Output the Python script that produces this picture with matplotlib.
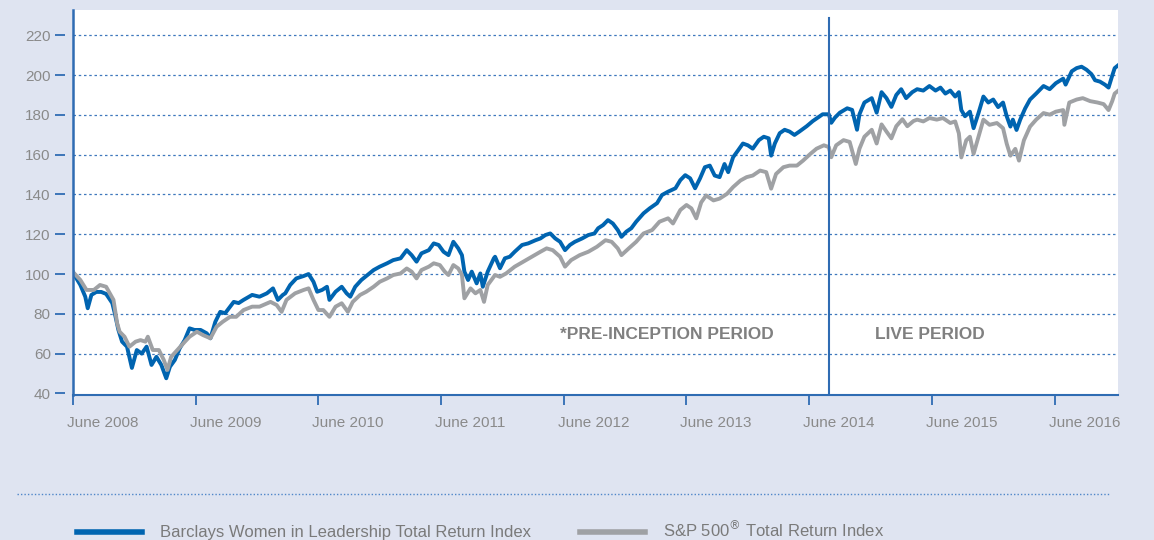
import matplotlib
matplotlib.use("Agg")
import matplotlib.pyplot as plt
from matplotlib.lines import Line2D
from matplotlib.transforms import ScaledTranslation

plt.rcParams['font.family'] = ['Liberation Sans', 'DejaVu Sans']

# Barclays Women in Leadership Total Return Index (decimal years, index level)
wil_t = [2008.45, 2008.47, 2008.51, 2008.55, 2008.57, 2008.60, 2008.64, 2008.68, 2008.72, 2008.77,
         2008.79, 2008.82, 2008.85, 2008.89, 2008.93, 2008.97, 2009.01, 2009.05, 2009.09, 2009.13,
         2009.17, 2009.21, 2009.24, 2009.28, 2009.32, 2009.36, 2009.40, 2009.44, 2009.49, 2009.54,
         2009.57, 2009.61, 2009.65, 2009.69, 2009.76, 2009.80, 2009.84, 2009.91, 2009.97, 2010.03,
         2010.08, 2010.12, 2010.16, 2010.18, 2010.22, 2010.27, 2010.33, 2010.37, 2010.41, 2010.44,
         2010.48, 2010.52, 2010.54, 2010.59, 2010.64, 2010.68, 2010.71, 2010.75, 2010.80, 2010.84,
         2010.90, 2010.95, 2011.01, 2011.06, 2011.12, 2011.17, 2011.21, 2011.25, 2011.29, 2011.35,
         2011.39, 2011.43, 2011.47, 2011.51, 2011.55, 2011.59, 2011.62, 2011.64, 2011.67, 2011.70,
         2011.74, 2011.77, 2011.79, 2011.83, 2011.88, 2011.89, 2011.93, 2011.97, 2012.01, 2012.05,
         2012.11, 2012.16, 2012.22, 2012.26, 2012.30, 2012.34, 2012.38, 2012.42, 2012.46, 2012.50,
         2012.54, 2012.60, 2012.65, 2012.70, 2012.73, 2012.77, 2012.81, 2012.85, 2012.89, 2012.92,
         2012.96, 2013.00, 2013.04, 2013.10, 2013.15, 2013.21, 2013.25, 2013.30, 2013.36, 2013.40,
         2013.44, 2013.48, 2013.52, 2013.56, 2013.60, 2013.64, 2013.68, 2013.72, 2013.76, 2013.79,
         2013.83, 2013.87, 2013.91, 2013.95, 2013.99, 2014.04, 2014.08, 2014.12, 2014.14, 2014.17,
         2014.21, 2014.25, 2014.29, 2014.33, 2014.37, 2014.43, 2014.48, 2014.52, 2014.56, 2014.61,
         2014.63, 2014.66, 2014.70, 2014.76, 2014.80, 2014.84, 2014.86, 2014.90, 2014.96, 2015.00,
         2015.04, 2015.08, 2015.12, 2015.16, 2015.20, 2015.24, 2015.29, 2015.33, 2015.38, 2015.43,
         2015.48, 2015.52, 2015.56, 2015.60, 2015.64, 2015.67, 2015.69, 2015.72, 2015.76, 2015.79,
         2015.83, 2015.87, 2015.91, 2015.95, 2015.99, 2016.03, 2016.06, 2016.09, 2016.11, 2016.14,
         2016.17, 2016.21, 2016.25, 2016.30, 2016.36, 2016.41, 2016.46, 2016.52, 2016.54, 2016.59,
         2016.63, 2016.67, 2016.71, 2016.75, 2016.78, 2016.82, 2016.86, 2016.89, 2016.92, 2016.94,
         2016.97]
wil_v = [101, 98.6, 94.5, 88.6, 82.8, 89.5, 91, 91, 90, 85.4,
         80.4, 71.9, 66, 63.5, 52.8, 61.8, 60, 63.5, 54.3, 58.4,
         54.3, 47.6, 53.4, 56.8, 62.7, 66.8, 72.7, 71.9, 71.9, 70.2,
         67.7, 76, 81, 80.3, 86, 85.4, 87, 89.5, 88.6, 90.3,
         92.8, 87, 89.5, 90.3, 94.5, 97.8, 99, 100, 96.1, 91.1,
         92, 93.6, 87, 91.1, 93.6, 90.3, 88.6, 93.6, 97, 99,
         102, 103.7, 105.4, 107, 107.9, 112, 109.5, 106.2, 110.4, 112,
         115.4, 114.6, 111.2, 109.5, 116.2, 112.9, 109.5, 101.2, 97, 101.2,
         95.3, 100.3, 93.6, 101.2, 107.9, 108.7, 102.9, 107.9, 108.7, 111.2,
         114.6, 115.4, 117, 117.9, 119.6, 120.4, 117.9, 116.2, 112, 114.6,
         116.2, 117.9, 119.6, 120.4, 123, 124.6, 127.1, 125.4, 122.1, 118.7,
         121.3, 123, 126.3, 130.5, 133, 135.6, 139.7, 141.4, 143.1, 147.2,
         149.7, 148.1, 143.1, 148, 153.7, 154.5, 149.5, 148.7, 155.3, 151.2,
         158.7, 162.1, 165.6, 164.7, 163, 167.3, 169, 168.2, 159.5, 165.6,
         170.8, 172.5, 171.6, 169.9, 171.6, 174.3, 176.9, 178.6, 180.3, 180.3,
         176, 178.6, 181.1, 183.3, 182.5, 172.5, 180.3, 186.2, 188.4, 181.1,
         191.4, 188.4, 184, 190, 192.9, 188.4, 191.4, 192.9, 192.2, 194.5,
         192.2, 193.7, 190.7, 192.2, 189.2, 191.4, 182.4, 179.3, 181.6, 173.3,
         180.9, 189.2, 186.2, 187.7, 183.9, 186.2, 179.3, 174.1, 177.6, 172.4,
         177.6, 183.2, 187.7, 190.7, 194.5, 192.9, 195.9, 198.2, 195.2, 201.9,
         203.5, 204.2, 202.7, 200.5, 197.4, 196.7, 195.2, 193.7, 199.7, 203.5,
         205]

# S&P 500 Total Return Index
spx_t = [2008.45, 2008.51, 2008.56, 2008.62, 2008.67, 2008.72, 2008.78, 2008.81, 2008.83, 2008.87,
         2008.91, 2008.96, 2009.00, 2009.04, 2009.06, 2009.10, 2009.15, 2009.19, 2009.22, 2009.25,
         2009.30, 2009.35, 2009.40, 2009.46, 2009.51, 2009.57, 2009.62, 2009.67, 2009.73, 2009.78,
         2009.84, 2009.91, 2009.97, 2010.06, 2010.11, 2010.15, 2010.19, 2010.26, 2010.33, 2010.37,
         2010.41, 2010.45, 2010.49, 2010.54, 2010.59, 2010.64, 2010.69, 2010.73, 2010.79, 2010.84,
         2010.90, 2010.95, 2011.01, 2011.06, 2011.12, 2011.17, 2011.21, 2011.25, 2011.29, 2011.35,
         2011.39, 2011.44, 2011.48, 2011.51, 2011.55, 2011.59, 2011.62, 2011.64, 2011.69, 2011.73,
         2011.77, 2011.80, 2011.83, 2011.89, 2011.93, 2011.98, 2012.05, 2012.12, 2012.19, 2012.26,
         2012.31, 2012.36, 2012.42, 2012.46, 2012.51, 2012.58, 2012.65, 2012.72, 2012.79, 2012.84,
         2012.89, 2012.92, 2012.98, 2013.04, 2013.10, 2013.17, 2013.23, 2013.30, 2013.34, 2013.40,
         2013.45, 2013.49, 2013.53, 2013.57, 2013.61, 2013.67, 2013.72, 2013.78, 2013.83, 2013.89,
         2013.94, 2013.99, 2014.05, 2014.10, 2014.14, 2014.18, 2014.24, 2014.29, 2014.35, 2014.40,
         2014.46, 2014.51, 2014.57, 2014.61, 2014.63, 2014.67, 2014.73, 2014.78, 2014.83, 2014.86,
         2014.90, 2014.96, 2015.00, 2015.04, 2015.08, 2015.12, 2015.16, 2015.21, 2015.25, 2015.30,
         2015.33, 2015.38, 2015.43, 2015.49, 2015.54, 2015.60, 2015.64, 2015.67, 2015.69, 2015.73,
         2015.76, 2015.79, 2015.83, 2015.87, 2015.92, 2015.98, 2016.03, 2016.06, 2016.09, 2016.13,
         2016.16, 2016.20, 2016.25, 2016.30, 2016.36, 2016.41, 2016.46, 2016.52, 2016.53, 2016.57,
         2016.63, 2016.68, 2016.74, 2016.80, 2016.85, 2016.89, 2016.92, 2016.94, 2016.97]
spx_v = [101, 97, 92, 92, 94.5, 93.6, 87, 75.2, 71, 68.5,
         63.5, 66, 66.8, 66, 68.5, 61.8, 61.8, 56.8, 51.8, 58.4,
         61.8, 65.2, 68.5, 71, 69.3, 67.7, 73.5, 76, 78.5, 78.5,
         81.9, 83.6, 83.6, 86, 84.4, 81, 87, 90.3, 92, 92.8,
         87, 81.9, 81.9, 78.5, 83.6, 85.3, 81, 86, 89.5, 91.1,
         93.6, 96.1, 97.8, 99.5, 100.3, 102.8, 101.2, 97.8, 102, 103.7,
         105.4, 104.5, 101.2, 99.5, 104.5, 102.8, 99.5, 87.8, 92.8, 90.3,
         92, 86, 94.5, 99.5, 98.6, 100.3, 103.7, 106.2, 108.7, 111.2,
         112.9, 112, 108.7, 103.7, 107, 109.5, 111.2, 113.7, 117, 116.2,
         112.9, 109.5, 112.9, 116.2, 120.4, 122.1, 126.3, 128, 125.4, 132.2,
         134.7, 133, 128, 136, 139.5, 137, 137.9, 140.3, 143.7, 147,
         148.7, 149.5, 152, 151.2, 142.9, 150.3, 153.7, 154.5, 154.5, 157,
         160.4, 163, 164.7, 163.8, 158.7, 164.7, 167.3, 166.4, 155.3, 163,
         169, 172.5, 165.6, 175.2, 171.6, 168.2, 174.3, 177.8, 174.3, 176.9,
         177.6, 176.7, 178.4, 177.6, 178.4, 175.9, 176.7, 170.7, 158.6, 167.2,
         169, 160.4, 169, 177.6, 175, 175.9, 173.3, 165.5, 159.5, 162.9,
         157, 167.2, 174.1, 177.6, 180.9, 180.1, 181.6, 182.4, 175, 186.2,
         187.7, 188.4, 186.9, 186.2, 185.4, 182.4, 186.9, 190.7, 192.2]

tick_years = [2008.45 + k for k in range(9)]
tick_labels = ['June %d' % (2008 + k) for k in range(9)]
y_ticks = list(range(40, 221, 20))
live_start = 2014.61

blue = '#0064b0'
grey = '#9fa1a4'
axis_blue = '#2f6cb3'
label_grey = '#8a8a8a'

fig = plt.figure(figsize=(11.54, 5.40), dpi=100, facecolor='#dfe4f1')
ax = fig.add_axes([73/1154, 1 - 395/540, 1045/1154, 385/540])
ax.set_facecolor('white')

ax.plot(wil_t, wil_v, color=blue, lw=2.8, solid_joinstyle='round')
ax.plot(spx_t, spx_v, color=grey, lw=2.8, solid_joinstyle='round')

ax.set_xlim(2008.45, 2016.967)
ax.set_ylim(39.2, 232.7)

for v in y_ticks[1:]:
    ax.axhline(v, color='#3f78bd', lw=0.9, ls=(0, (2, 2.2)), zorder=0)

ax.axvline(live_start, ymax=0.98, color=axis_blue, lw=1.5)

ax.text(2013.29, 69.8, '*PRE-INCEPTION PERIOD', ha='center', va='center',
        fontsize=12.5, fontweight='bold', color='#808080')
ax.text(2015.43, 69.8, 'LIVE PERIOD', ha='center', va='center',
        fontsize=12.5, fontweight='bold', color='#808080')

# spines
for s in ['top', 'right']:
    ax.spines[s].set_visible(False)
ax.spines['bottom'].set_color(axis_blue)
ax.spines['bottom'].set_linewidth(1.5)
ax.spines['left'].set_position(('outward', 6))
ax.spines['left'].set_visible(False)
ax.axvline(2008.45, color=axis_blue, lw=1.8, clip_on=False)

ax.set_yticks(y_ticks)
ax.set_yticklabels([str(v) for v in y_ticks])
ax.tick_params(axis='y', length=7, width=1.3, color=axis_blue, pad=3,
               labelsize=11, labelcolor=label_grey)

ax.set_xticks(tick_years)
ax.set_xticklabels(tick_labels)
ax.tick_params(axis='x', length=7, width=1.3, color=axis_blue, pad=8,
               labelsize=11, labelcolor=label_grey)
shift = ScaledTranslation(-0.06, 0, fig.dpi_scale_trans)
for lbl in ax.get_xticklabels():
    lbl.set_ha('left')
    lbl.set_transform(lbl.get_transform() + shift)

# separator and legend
fig.add_artist(Line2D([17/1154, 1110/1154], [1 - 494/540] * 2, color='#4f86c9',
                      lw=1, ls=(0, (1, 1.5))))
h1 = Line2D([], [], color=blue, lw=4)
h2 = Line2D([], [], color=grey, lw=4)
fig.legend([h1, h2], ['Barclays Women in Leadership Total Return Index',
                      'S&P 500$^{\\circledR}$ Total Return Index'],
           loc='center left', bbox_to_anchor=(77/1154, 1 - 530/540), ncol=2,
           frameon=False, fontsize=12, labelcolor='#7a7a7a', borderaxespad=0,
           borderpad=0, handlelength=3.9, handletextpad=1.08, columnspacing=2.94)

fig.savefig('out.png', dpi=100, facecolor=fig.get_facecolor())
